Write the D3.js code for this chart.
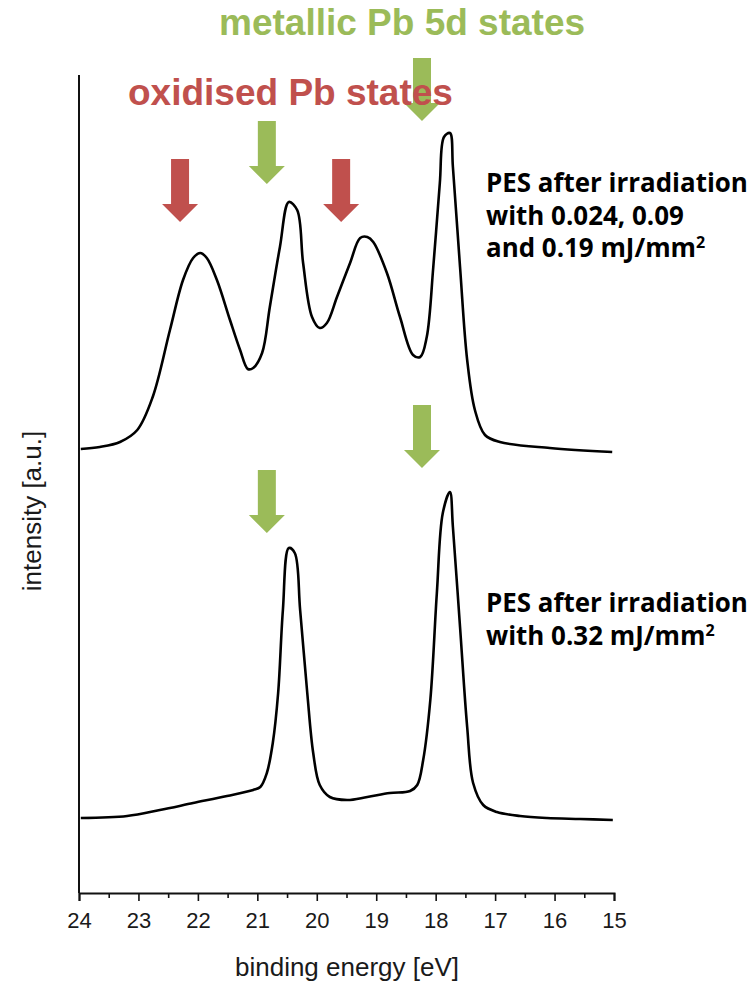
<!DOCTYPE html>
<html>
<head>
<meta charset="utf-8">
<script src="https://cdn.jsdelivr.net/npm/d3@7"></script>
<style>
  html, body { margin: 0; padding: 0; background: #fff; }
  svg { display: block; }
</style>
</head>
<body>
<svg id="chart" width="753" height="983"></svg>
<script>
// Pb 5d photoemission spectra (binding energy in eV, intensity in a.u.)
const energyAxisTicks = [24, 23, 22, 21, 20, 19, 18, 17, 16, 15];

// spectrum after 0.024, 0.09 and 0.19 mJ/mm² (stacked above)
const mixedEnergy = [23.97, 23.65, 23.31, 23.02, 22.76, 22.47, 22.25, 22.08, 21.96, 21.85, 21.68, 21.46, 21.29, 21.16, 21.07, 20.92, 20.79, 20.62, 20.47, 20.33, 20.23, 20.08, 19.95, 19.83, 19.66, 19.44, 19.27, 19.15, 19.05, 18.82, 18.60, 18.38, 18.26, 18.15, 18.04, 17.93, 17.86, 17.76, 17.71, 17.59, 17.47, 17.34, 17.17, 16.92, 16.08, 15.03];
const mixedIntensity = [444, 446, 451, 463, 496, 563, 613, 635, 640, 635, 613, 573, 543, 524, 525, 540, 586, 646, 691, 683, 630, 576, 565, 570, 596, 630, 655, 656, 651, 620, 576, 538, 536, 556, 626, 710, 756, 760, 726, 626, 533, 483, 458, 451, 445, 441];

// spectrum after 0.32 mJ/mm²
const metallicEnergy = [23.97, 23.19, 22.64, 22.08, 21.51, 21.07, 20.95, 20.84, 20.74, 20.65, 20.57, 20.47, 20.37, 20.28, 20.16, 20.06, 19.95, 19.78, 19.49, 19.15, 18.77, 18.43, 18.31, 18.21, 18.09, 17.98, 17.88, 17.76, 17.71, 17.59, 17.47, 17.37, 17.20, 16.97, 16.58, 16.13, 15.57, 15.02];
const metallicIntensity = [75, 77, 83, 90, 97, 103, 106, 120, 150, 200, 283, 345, 340, 283, 200, 140, 108, 96, 93, 96, 100, 102, 108, 133, 193, 300, 380, 401, 366, 266, 166, 110, 88, 81, 77, 75, 74, 73];

// arrow markers: energy and intensity at the arrow tip
const oxidisedArrowEnergy = [22.30, 19.59];
const oxidisedArrowTip = [671, 671];
const metallicArrowEnergy = [20.84, 18.23, 20.84, 18.23];
const metallicArrowTip = [709, 772, 360, 425];

const GREEN = "#9BBB59";
const RED = "#C0504D";
const SANS = "'Liberation Sans', Arial, sans-serif";

const svg = d3.select("#chart");
const x = d3.scaleLinear().domain([24, 15]).range([79, 614]);
const y = d3.scaleLinear().domain([0, 818]).range([893, 75]);

// axes
const xAxis = d3.axisBottom(x)
  .tickValues(d3.range(15, 24.01, 0.5))
  .tickSize(8)
  .tickFormat(d => energyAxisTicks.includes(d) ? d3.format("d")(d) : "");
const gx = svg.append("g").attr("transform", `translate(0,${y(0)})`).call(xAxis);
gx.select(".domain").attr("stroke", "#111").attr("stroke-width", 2);
gx.selectAll(".tick line")
  .attr("stroke", "#111").attr("stroke-width", 1.6)
  .attr("y2", d => Number.isInteger(d) ? 8 : 5);
gx.selectAll(".tick text")
  .attr("y", 19)
  .attr("fill", "#1a1a1a")
  .style("font-family", SANS)
  .style("font-size", "22px");

svg.append("line")
  .attr("x1", x(24)).attr("x2", x(24))
  .attr("y1", y(818)).attr("y2", y(0))
  .attr("stroke", "#111").attr("stroke-width", 2);

svg.append("text")
  .attr("x", (x(24) + x(15)) / 2 + 0.5).attr("y", 976)
  .attr("text-anchor", "middle")
  .attr("fill", "#1a1a1a")
  .style("font-family", SANS)
  .style("font-size", "26px")
  .text("binding energy [eV]");

svg.append("text")
  .attr("transform", "translate(41,511) rotate(-90)")
  .attr("text-anchor", "middle")
  .attr("fill", "#1a1a1a")
  .style("font-family", SANS)
  .style("font-size", "26px")
  .text("intensity [a.u.]");

// spectra
const line = d3.line()
  .x(d => x(d[0]))
  .y(d => y(d[1]))
  .curve(d3.curveCatmullRom.alpha(0.5));

[[mixedEnergy, mixedIntensity], [metallicEnergy, metallicIntensity]].forEach(([e, v]) => {
  svg.append("path")
    .datum(d3.zip(e, v))
    .attr("fill", "none")
    .attr("stroke", "#000")
    .attr("stroke-width", 2.6)
    .attr("stroke-linejoin", "round")
    .attr("d", line);
});

// block arrows pointing down at the peaks
function arrowPath(cx, tipY) {
  const len = 63, head = 18, shaftW = 18, headW = 36;
  const top = tipY - len, hs = tipY - head;
  return `M${cx - shaftW / 2},${top}H${cx + shaftW / 2}V${hs}H${cx + headW / 2}L${cx},${tipY}L${cx - headW / 2},${hs}H${cx - shaftW / 2}Z`;
}
svg.append("g").selectAll("path")
  .data(d3.zip(metallicArrowEnergy, metallicArrowTip))
  .join("path")
  .attr("fill", GREEN)
  .attr("d", d => arrowPath(x(d[0]), y(d[1])));
svg.append("g").selectAll("path")
  .data(d3.zip(oxidisedArrowEnergy, oxidisedArrowTip))
  .join("path")
  .attr("fill", RED)
  .attr("d", d => arrowPath(x(d[0]), y(d[1])));

// headline labels
svg.append("text")
  .attr("x", 219).attr("y", 35)
  .attr("fill", GREEN)
  .style("font-family", SANS)
  .style("font-weight", "bold")
  .style("font-size", "37px")
  .text("metallic Pb 5d states");
svg.append("text")
  .attr("x", 128).attr("y", 105)
  .attr("fill", RED)
  .style("font-family", SANS)
  .style("font-weight", "bold")
  .style("font-size", "37px")
  .text("oxidised Pb states");

// spectrum descriptions, sized so the first line spans about 262 px
const noteFont = "'Open Sans', Lato, sans-serif";
const probe = svg.append("text")
  .style("font-family", noteFont).style("font-weight", "bold").style("font-size", "24px")
  .text("PES after irradiation");
const noteSize = 24 * 262 / probe.node().getComputedTextLength();
probe.remove();

function note(lines, x0, y0) {
  const t = svg.append("text")
    .attr("fill", "#000")
    .style("font-family", noteFont)
    .style("font-weight", "bold")
    .style("font-size", noteSize + "px");
  lines.forEach((ln, i) => {
    const ts = t.append("tspan").attr("x", x0).attr("y", y0 + i * 32.5);
    ts.append("tspan").text(ln[0]);
    if (ln[1]) {
      ts.append("tspan").attr("dy", -9).style("font-size", (noteSize * 0.62) + "px").text(ln[1]);
    }
  });
}
note([["PES after irradiation"], ["with 0.024, 0.09"], ["and 0.19 mJ/mm", "2"]], 486, 192);
note([["PES after irradiation"], ["with 0.32 mJ/mm", "2"]], 486, 612);
</script>
</body>
</html>
